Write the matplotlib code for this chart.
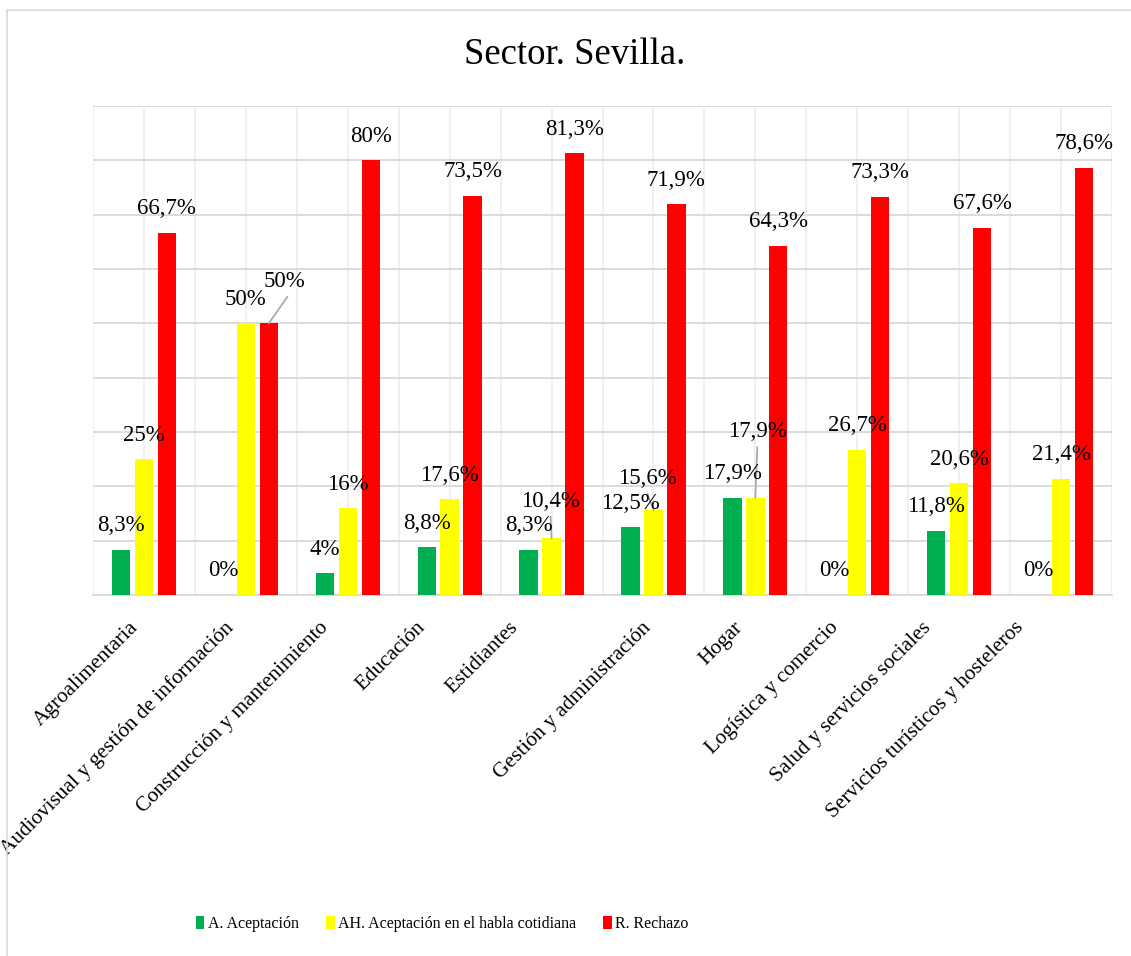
import numpy as np
import matplotlib
matplotlib.use("Agg")
import matplotlib.pyplot as plt
import matplotlib.transforms as mtransforms
from matplotlib.patches import Rectangle

plt.rcParams['font.family'] = ['Liberation Serif', 'DejaVu Serif']

categories = [
    "Agroalimentaria",
    "Audiovisual y gestión de información",
    "Construcción y mantenimiento",
    "Educación",
    "Estidiantes",
    "Gestión y administración",
    "Hogar",
    "Logística y comercio",
    "Salud y servicios sociales",
    "Servicios turísticos y hosteleros",
]
aceptacion = [8.3, 0, 4, 8.8, 8.3, 12.5, 17.9, 0, 11.8, 0]
habla = [25, 50, 16, 17.6, 10.4, 15.6, 17.9, 26.7, 20.6, 21.4]
rechazo = [66.7, 50, 80, 73.5, 81.3, 71.9, 64.3, 73.3, 67.6, 78.6]

series_names = ["A. Aceptación", "AH. Aceptación en el habla cotidiana", "R. Rechazo"]
colors = ["#00B050", "#FFFF00", "#FF0000"]

# etiquetas movidas a mano (serie, categoría) -> desplazamiento en px, con línea guía
moved = {
    (2, 1): (16, -42),
    (1, 4): (-1, -37),
    (1, 5): (-6, -32),
    (1, 6): (2, -66),
}
# desplazamiento horizontal (px) del final de cada etiqueta del eje x respecto al centro
tick_shift = [-6, -13, -20, -25, -34, -3, -13, -20, -29, -38]


def fmt(v):
    if float(v).is_integer():
        return f"{int(v)}%"
    return f"{v:.1f}%".replace(".", ",")


W, H = 1131, 956
fig = plt.figure(figsize=(W / 100, H / 100), dpi=100)
fig.patches.append(Rectangle((7 / W, -0.1), 1.2, 1 - 10 / H + 0.1, transform=fig.transFigure,
                             fill=False, edgecolor="#d9d9d9", linewidth=1.2))

ax = fig.add_axes([93 / W, 1 - 595 / H, (1112 - 93) / W, (595 - 106) / H])
x = np.arange(len(categories))
bw = 0.18
step = 0.225
data = [aceptacion, habla, rechazo]
for k, (vals, c, name) in enumerate(zip(data, colors, series_names)):
    pos = x + (k - 1) * step
    ax.bar(pos, vals, bw, color=c, label=name, zorder=3)
    for i, v in enumerate(vals):
        dx, dy = moved.get((k, i), (0, -24))
        ax.annotate(fmt(v), (pos[i], v), xytext=(dx * 0.72, -dy * 0.72),
                    textcoords="offset points", ha="center", va="center",
                    fontsize=16.5, zorder=5)
        if (k, i) in moved:
            # línea guía desde la barra hasta la etiqueta
            ax.annotate("", (pos[i], v), xytext=(dx * 0.72 + (2 if dx > 5 else 0), -dy * 0.72 - 11),
                        textcoords="offset points",
                        arrowprops=dict(arrowstyle="-", color="#a6a6a6", lw=1.2,
                                        shrinkA=0, shrinkB=0), zorder=4)

ax.set_xlim(-0.5, len(categories) - 0.5)
ax.set_ylim(0, 90)
ax.set_yticks(np.arange(0, 91, 10))
ax.set_yticklabels([])
ax.tick_params(axis="y", length=0)
ax.set_xticks(x)
ax.set_xticklabels([])
ax.set_xticks(np.arange(-0.5, len(categories), 1.0), minor=True)
ax.tick_params(axis="x", which="both", length=0)
ax.grid(axis="y", color="#d9d9d9", linewidth=1.3, zorder=0)
ax.grid(axis="x", which="both", color="#efefef", linewidth=1.3, zorder=0)
for s in ["top", "right", "left"]:
    ax.spines[s].set_visible(False)
ax.spines["bottom"].set_color("#d9d9d9")
ax.spines["bottom"].set_linewidth(1.3)

# etiquetas de categoría giradas 45°
base = ax.get_xaxis_transform()
for i, lab in enumerate(categories):
    off = mtransforms.ScaledTranslation((tick_shift[i] - 2) / 100, -30 / 100, fig.dpi_scale_trans)
    ax.text(x[i], 0, lab, transform=base + off, rotation=45, ha="right", va="center",
            rotation_mode="anchor", fontsize=15.3, clip_on=False)

fig.text(575 / W, 1 - 55 / H, "Sector. Sevilla.", ha="center", va="center", fontsize=26.5)

fig.legend(loc="center", bbox_to_anchor=(442 / W, 1 - 924 / H), ncol=3, frameon=False,
           fontsize=11.5, handlelength=0.55, handleheight=0.85, handletextpad=0.2,
           columnspacing=1.7, borderaxespad=0)

fig.savefig("out.png", dpi=100)
